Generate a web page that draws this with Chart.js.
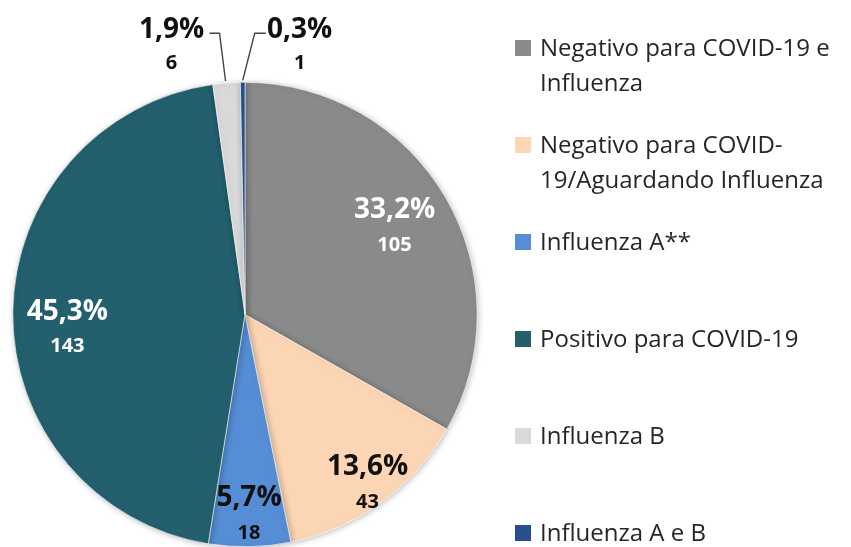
<!DOCTYPE html>
<html>
<head>
<meta charset="utf-8">
<script src="https://cdn.jsdelivr.net/npm/chart.js@4"></script>
<style>
  html, body { margin: 0; padding: 0; background: #fff; }
  #wrap { width: 851px; height: 547px; position: relative; }
</style>
</head>
<body>
<div id="wrap"><canvas id="pieChart" width="851" height="547"></canvas></div>
<script>
// Chart data
const categories = [
    'Negativo para COVID-19 e Influenza',
    'Negativo para COVID-19/Aguardando Influenza',
    'Influenza A**',
    'Positivo para COVID-19',
    'Influenza B',
    'Influenza A e B'
];
const counts = [105, 43, 18, 143, 6, 1];
const percentLabels = ['33,2%', '13,6%', '5,7%', '45,3%', '1,9%', '0,3%'];
const sliceColors = ['#8a8a8a', '#fcd5b4', '#558ed5', '#235f6d', '#d9d9d9', '#24518e'];
const labelColors = ['#ffffff', '#111111', '#111111', '#ffffff', '#111111', '#111111'];

const FONT = '"Open Sans", "Noto Sans", sans-serif';

// Labels on / outside the slices
const sliceLabels = {
    id: 'sliceLabels',
    afterDatasetsDraw(chart) {
        const ctx = chart.ctx;
        const arcs = chart.getDatasetMeta(0).data;
        // how far out from the center each label sits (fraction of radius) and a small nudge
        const radial = [0.745, 0.9, 0.865, 0.765];
        const nudge = [[0, 0], [0, 0], [0, 0], [0, 16]];
        ctx.save();
        ctx.textAlign = 'center';
        ctx.textBaseline = 'middle';
        arcs.forEach(function (arc, i) {
            const p = arc.getProps(['x', 'y', 'startAngle', 'endAngle', 'outerRadius'], true);
            const mid = (p.startAngle + p.endAngle) / 2;
            ctx.fillStyle = labelColors[i];
            if (i < 4) {
                const r = p.outerRadius * radial[i];
                const cx = p.x + Math.cos(mid) * r + nudge[i][0];
                const cy = p.y + Math.sin(mid) * r + nudge[i][1];
                ctx.font = 'bold 28px ' + FONT;
                ctx.fillText(percentLabels[i], cx, cy - 17);
                ctx.font = 'bold 20px ' + FONT;
                ctx.fillText(String(counts[i]), cx, cy + 18);
            } else {
                // small slices: label above the pie with a leader line
                const ex = p.x + Math.cos(mid) * p.outerRadius;
                const ey = p.y + Math.sin(mid) * p.outerRadius;
                const ty = p.y - p.outerRadius - 52;
                const tx = i === 4 ? ex - 55 : ex + 57;
                ctx.font = 'bold 28px ' + FONT;
                ctx.fillText(percentLabels[i], tx, ty);
                ctx.font = 'bold 20px ' + FONT;
                ctx.fillText(String(counts[i]), tx, ty + 33);
                ctx.strokeStyle = '#444444';
                ctx.lineWidth = 1.4;
                ctx.beginPath();
                if (i === 4) {
                    ctx.moveTo(ex - 17, ty + 3);
                    ctx.lineTo(ex - 7, ty + 3);
                    ctx.lineTo(ex - 1, ey - 2);
                } else {
                    ctx.moveTo(ex + 23, ty + 3);
                    ctx.lineTo(ex + 12, ty + 3);
                    ctx.lineTo(ex, ey - 2);
                }
                ctx.stroke();
            }
        });
        ctx.restore();
    }
};

// Legend drawn on the right, with wrapping
const sideLegend = {
    id: 'sideLegend',
    afterDraw(chart) {
        const ctx = chart.ctx;
        const x0 = 515, box = 16, textX = 540, maxW = 305;
        const firstY = 48, step = 97, lineH = 35;
        ctx.save();
        ctx.font = '24px ' + FONT;
        ctx.textBaseline = 'middle';
        ctx.textAlign = 'left';
        categories.forEach(function (label, i) {
            const y = firstY + i * step;
            ctx.fillStyle = sliceColors[i];
            ctx.fillRect(x0, y - box / 2, box, box);
            // break after spaces and hyphens
            const tokens = label.split(/(?<=[ -])/);
            const lines = [];
            let line = '';
            tokens.forEach(function (t) {
                const test = line + t;
                if (line && ctx.measureText(test.trimEnd()).width > maxW) {
                    lines.push(line.trimEnd());
                    line = t;
                } else {
                    line = test;
                }
            });
            lines.push(line.trimEnd());
            ctx.fillStyle = '#262626';
            lines.forEach(function (l, k) {
                ctx.fillText(l, textX, y + 1 + k * lineH);
            });
        });
        ctx.restore();
    }
};

// soft shadow under the pie
const pieShadow = {
    id: 'pieShadow',
    beforeDatasetsDraw(chart) {
        const ctx = chart.ctx;
        ctx.save();
        ctx.shadowColor = 'rgba(0,0,0,0.25)';
        ctx.shadowBlur = 6;
        ctx.shadowOffsetX = 1;
        ctx.shadowOffsetY = 1;
    },
    afterDatasetsDraw(chart) {
        chart.ctx.restore();
    }
};

const ctx = document.getElementById('pieChart').getContext('2d');
new Chart(ctx, {
    type: 'pie',
    data: {
        labels: categories,
        datasets: [{
            data: counts,
            backgroundColor: sliceColors,
            borderColor: '#ffffff',
            borderWidth: 0.6
        }]
    },
    options: {
        responsive: false,
        animation: false,
        layout: { padding: { left: 12, right: 373, top: 82, bottom: 0 } },
        plugins: {
            legend: { display: false },
            tooltip: { enabled: false }
        }
    },
    plugins: [pieShadow, sliceLabels, sideLegend]
});
</script>
</body>
</html>
